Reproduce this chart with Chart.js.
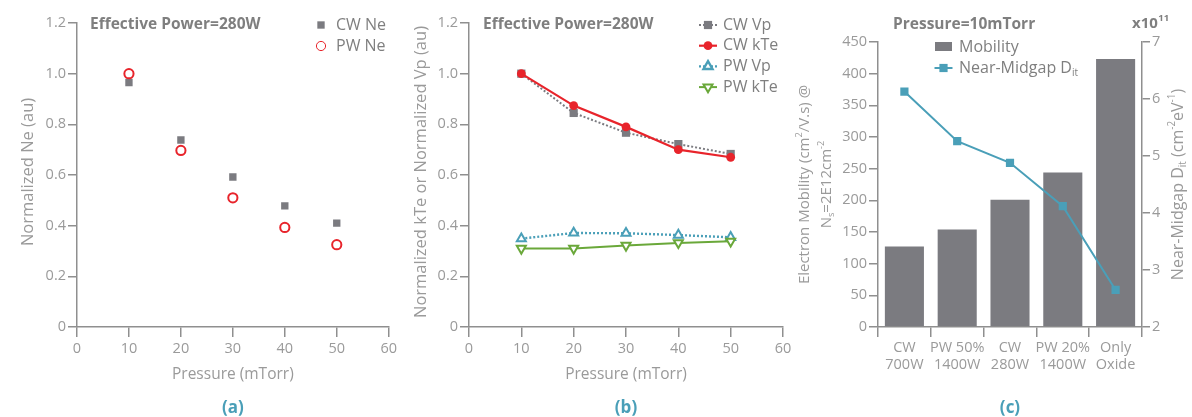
<!DOCTYPE html>
<html>
<head>
<meta charset="utf-8">
<script src="https://cdn.jsdelivr.net/npm/chart.js@4.4.1/dist/chart.umd.min.js"></script>
<style>
  html, body { margin: 0; padding: 0; background: #fff; }
  #wrap { position: relative; width: 1192px; height: 417px; overflow: hidden; }
  canvas { position: absolute; top: 0; }
</style>
</head>
<body>
<div id="wrap">
  <canvas id="chartA" width="400" height="417" style="left:0"></canvas>
  <canvas id="chartB" width="395" height="417" style="left:400px"></canvas>
  <canvas id="chartC" width="402" height="417" style="left:790px"></canvas>
</div>
<script>
// pressure sweep, normalized plasma quantities
const pressure = [10, 20, 30, 40, 50];
const cwNe = [0.965, 0.738, 0.592, 0.478, 0.41];
const pwNe = [1.0, 0.697, 0.51, 0.393, 0.325];
const cwVp = [1.0, 0.845, 0.767, 0.722, 0.683];
const cwKTe = [1.0, 0.874, 0.79, 0.70, 0.67];
const pwVp = [0.349, 0.371, 0.37, 0.363, 0.354];
const pwKTe = [0.31, 0.31, 0.322, 0.332, 0.338];

// process conditions at 10 mTorr
const conditions = [['CW', '700W'], ['PW 50%', '1400W'], ['CW', '280W'], ['PW 20%', '1400W'], ['Only', 'Oxide']];
const mobility = [127, 154, 201, 244, 423];
const dit = [6.13, 5.26, 4.88, 4.12, 2.65];

const FONT = '"Open Sans", "DejaVu Sans", sans-serif';
const TICK = '#9a9a9a';
const AXIS = '#8f8f8f';
const TITLE = '#7f7f7f';
const GRAY = '#7b7b80';
const RED = '#e8242b';
const TEAL = '#4a9fb8';
const GREEN = '#6aa83a';

Chart.defaults.font.family = FONT;
Chart.defaults.color = TICK;

const xy = (xs, ys) => xs.map((x, i) => ({ x, y: ys[i] }));
const fmtNorm = v => (v === 0 ? '0' : v.toFixed(1));

// text with sub/superscript runs: parts = [[text, ''|'sub'|'sup'], ...]
function richText(ctx, parts, x, y, size, color, align = 'center') {
  const small = size * 0.62;
  ctx.save();
  ctx.fillStyle = color;
  ctx.textBaseline = 'middle';
  ctx.textAlign = 'left';
  let w = 0;
  for (const [t, k] of parts) {
    ctx.font = `${k ? small : size}px ${FONT}`;
    w += ctx.measureText(t).width;
  }
  let cx = align === 'center' ? x - w / 2 : x;
  for (const [t, k] of parts) {
    ctx.font = `${k ? small : size}px ${FONT}`;
    const dy = k === 'sup' ? -size * 0.36 : k === 'sub' ? size * 0.3 : 0;
    ctx.fillText(t, cx, y + dy);
    cx += ctx.measureText(t).width;
  }
  ctx.restore();
}

function vertical(ctx, x, y, fn) {
  ctx.save();
  ctx.translate(x, y);
  ctx.rotate(-Math.PI / 2);
  fn();
  ctx.restore();
}

function boldText(ctx, text, x, y, size, color, align = 'left') {
  ctx.save();
  ctx.font = `bold ${size}px ${FONT}`;
  ctx.fillStyle = color;
  ctx.textAlign = align;
  ctx.textBaseline = 'middle';
  ctx.fillText(text, x, y);
  ctx.restore();
}

function legendMarker(ctx, ds, x, y, withLine) {
  ctx.save();
  if (withLine) {
    ctx.strokeStyle = ds.borderColor;
    ctx.lineWidth = ds.borderWidth;
    ctx.setLineDash(ds.borderDash || []);
    ctx.beginPath();
    ctx.moveTo(x - 9, y);
    ctx.lineTo(x + 9, y);
    ctx.stroke();
    ctx.setLineDash([]);
  }
  ctx.fillStyle = ds.pointBackgroundColor;
  ctx.strokeStyle = ds.pointBorderColor;
  Chart.helpers.drawPoint(ctx, {
    pointStyle: ds.pointStyle,
    rotation: ds.pointRotation || 0,
    radius: ds.pointRadius,
    borderWidth: ds.pointBorderWidth
  }, x, y);
  ctx.restore();
}

function legendText(ctx, text, x, y) {
  ctx.save();
  ctx.font = `16px ${FONT}`;
  ctx.fillStyle = TITLE;
  ctx.textBaseline = 'middle';
  ctx.fillText(text, x, y);
  ctx.restore();
}

function pressureAxes(ticksPad) {
  return {
    x: {
      type: 'linear', min: 0, max: 60,
      ticks: { stepSize: 10, padding: 3, font: { size: 14.5 } },
      grid: { display: true, drawOnChartArea: false, drawTicks: true, tickLength: 10, color: AXIS, lineWidth: 1.5 },
      border: { color: AXIS, width: 1.5 },
      afterFit: s => { s.height = 90; }
    },
    y: {
      min: 0, max: 1.2,
      ticks: { stepSize: 0.2, padding: 2, font: { size: 14.5 }, callback: fmtNorm },
      grid: { display: true, drawOnChartArea: false, drawTicks: true, tickLength: 9, color: AXIS, lineWidth: 1.5 },
      border: { color: AXIS, width: 1.5 },
      afterFit: s => { s.width = ticksPad; }
    }
  };
}

function bottomLabels(ctx, area, tag) {
  const cx = (area.left + area.right) / 2;
  richText(ctx, [['Pressure (mTorr)', '']], cx, 375, 15.5, TICK);
  boldText(ctx, tag, cx, 408, 17, TEAL, 'center');
}

// (a) electron density
new Chart(document.getElementById('chartA'), {
  type: 'scatter',
  data: {
    datasets: [
      {
        label: 'PW Ne', data: xy(pressure, pwNe),
        pointStyle: 'circle', pointRadius: 4.6, pointBorderWidth: 2,
        pointBackgroundColor: '#fff', pointBorderColor: RED
      },
      {
        label: 'CW Ne', data: xy(pressure, cwNe),
        pointStyle: 'rect', pointRadius: 5.2, pointBorderWidth: 0,
        pointBackgroundColor: GRAY, pointBorderColor: GRAY
      }
    ]
  },
  options: {
    responsive: false, animation: false,
    layout: { padding: { top: 23, right: 10, left: 0, bottom: 0 } },
    plugins: { legend: { display: false }, tooltip: { enabled: false } },
    scales: pressureAxes(77)
  },
  plugins: [{
    id: 'textA',
    afterDraw(chart) {
      const { ctx, chartArea } = chart;
      const ds = chart.data.datasets;
      boldText(ctx, 'Effective Power=280W', 90, 25, 15.5, TITLE);
      legendMarker(ctx, ds[1], 321, 25, false);
      legendText(ctx, 'CW Ne', 336, 25);
      legendMarker(ctx, ds[0], 321, 46, false);
      legendText(ctx, 'PW Ne', 336, 46);
      vertical(ctx, 28, 172, () => richText(ctx, [['Normalized Ne (au)', '']], 0, 0, 16.5, TICK));
      bottomLabels(ctx, chartArea, '(a)');
    }
  }]
});

// (b) electron temperature and plasma potential
const lineSet = (label, values, color, dash, style, radius, fill, width, rot) => ({
  label, data: xy(pressure, values),
  borderColor: color, borderWidth: width, borderDash: dash,
  pointStyle: style, pointRadius: radius, pointRotation: rot || 0,
  pointBackgroundColor: fill, pointBorderColor: color,
  pointBorderWidth: fill === '#fff' ? 2 : 0,
  tension: 0, showLine: true
});

new Chart(document.getElementById('chartB'), {
  type: 'line',
  data: {
    datasets: [
      lineSet('CW kTe', cwKTe, RED, [], 'circle', 4.4, RED, 2.2),
      lineSet('CW Vp', cwVp, GRAY, [2, 2], 'rect', 5.8, GRAY, 2),
      lineSet('PW kTe', pwKTe, GREEN, [], 'triangle', 5.2, '#fff', 2, 180),
      lineSet('PW Vp', pwVp, TEAL, [2, 2], 'triangle', 5.2, '#fff', 2.4)
    ]
  },
  options: {
    responsive: false, animation: false,
    layout: { padding: { top: 23, right: 12, left: 0, bottom: 0 } },
    plugins: { legend: { display: false }, tooltip: { enabled: false } },
    scales: pressureAxes(69)
  },
  plugins: [{
    id: 'textB',
    afterDraw(chart) {
      const { ctx, chartArea } = chart;
      const ds = chart.data.datasets;
      boldText(ctx, 'Effective Power=280W', 83, 25, 15.5, TITLE);
      const rows = [[ds[1], 'CW Vp'], [ds[0], 'CW kTe'], [ds[3], 'PW Vp'], [ds[2], 'PW kTe']];
      rows.forEach(([d, t], i) => {
        const y = 25 + i * 20.7;
        legendMarker(ctx, d, 308, y, true);
        legendText(ctx, t, 323, y);
      });
      vertical(ctx, 21, 172, () => richText(ctx, [['Normalized kTe or Normalized Vp (au)', '']], 0, 0, 16.5, TICK));
      bottomLabels(ctx, chartArea, '(b)');
    }
  }]
});

// (c) mobility vs interface trap density
new Chart(document.getElementById('chartC'), {
  type: 'bar',
  data: {
    labels: conditions,
    datasets: [
      {
        type: 'line', label: 'Near-Midgap Dit', data: dit, yAxisID: 'y1', order: 0,
        borderColor: TEAL, borderWidth: 2, tension: 0,
        pointStyle: 'rect', pointRadius: 5.8, pointBorderWidth: 0,
        pointBackgroundColor: TEAL, pointBorderColor: TEAL
      },
      {
        label: 'Mobility', data: mobility, yAxisID: 'y', order: 1,
        backgroundColor: GRAY, barPercentage: 0.74, categoryPercentage: 1
      }
    ]
  },
  options: {
    responsive: false, animation: false,
    layout: { padding: { top: 42, right: 0, left: 0, bottom: 0 } },
    plugins: { legend: { display: false }, tooltip: { enabled: false } },
    scales: {
      x: {
        offset: true,
        ticks: { padding: 3, font: { size: 14.5, lineHeight: 1.15 }, maxRotation: 0, autoSkip: false },
        grid: { offset: true, display: true, drawOnChartArea: false, drawTicks: true, tickLength: 10, color: AXIS, lineWidth: 1.5 },
        border: { color: AXIS, width: 1.5 },
        afterFit: s => { s.height = 90; }
      },
      y: {
        position: 'left', min: 0, max: 450,
        ticks: { stepSize: 50, padding: 2, font: { size: 14.5 } },
        grid: { display: true, drawOnChartArea: false, drawTicks: true, tickLength: 9, color: AXIS, lineWidth: 1.5 },
        border: { color: AXIS, width: 1.5 },
        afterFit: s => { s.width = 88; }
      },
      y1: {
        position: 'right', min: 2, max: 7,
        ticks: { stepSize: 1, padding: 2, font: { size: 14.5 } },
        grid: { display: true, drawOnChartArea: false, drawTicks: true, tickLength: 8, color: AXIS, lineWidth: 1.5 },
        border: { color: AXIS, width: 1.5 },
        afterFit: s => { s.width = 50; }
      }
    }
  },
  plugins: [{
    id: 'textC',
    afterDraw(chart) {
      const { ctx, chartArea } = chart;
      const ds = chart.data.datasets;
      boldText(ctx, 'Pressure=10mTorr', 103, 25, 15.5, TITLE);
      // x10^11 multiplier above the right axis
      ctx.save();
      ctx.font = `bold 15px ${FONT}`;
      ctx.fillStyle = TITLE;
      ctx.textBaseline = 'middle';
      ctx.fillText('x10', 342, 24);
      const w = ctx.measureText('x10').width;
      ctx.font = `bold 9.5px ${FONT}`;
      ctx.fillText('11', 342 + w + 0.5, 18);
      ctx.restore();
      // legend
      ctx.save();
      ctx.fillStyle = GRAY;
      ctx.fillRect(145, 42, 17, 9);
      ctx.restore();
      legendText(ctx, 'Mobility', 169, 47);
      legendMarker(ctx, ds[0], 153.5, 68, true);
      richText(ctx, [['Near-Midgap D', ''], ['it', 'sub']], 169, 68, 16, TITLE, 'left');
      // axis titles
      const mid = (chartArea.top + chartArea.bottom) / 2;
      vertical(ctx, 15, mid, () => richText(ctx, [['Electron Mobility (cm', ''], ['2', 'sup'], ['/V.s) @', '']], 0, 0, 15, TICK));
      vertical(ctx, 37, mid, () => richText(ctx, [['N', ''], ['s', 'sub'], ['=2E12cm', ''], ['-2', 'sup']], 0, 0, 15, TICK));
      vertical(ctx, 388, mid, () => richText(ctx, [['Near-Midgap D', ''], ['it', 'sub'], [' (cm', ''], ['-2', 'sup'], ['eV', ''], ['-1', 'sup'], [')', '']], 0, 0, 16, TICK));
      boldText(ctx, '(c)', (chartArea.left + chartArea.right) / 2, 408, 17, TEAL, 'center');
    }
  }]
});
</script>
</body>
</html>
